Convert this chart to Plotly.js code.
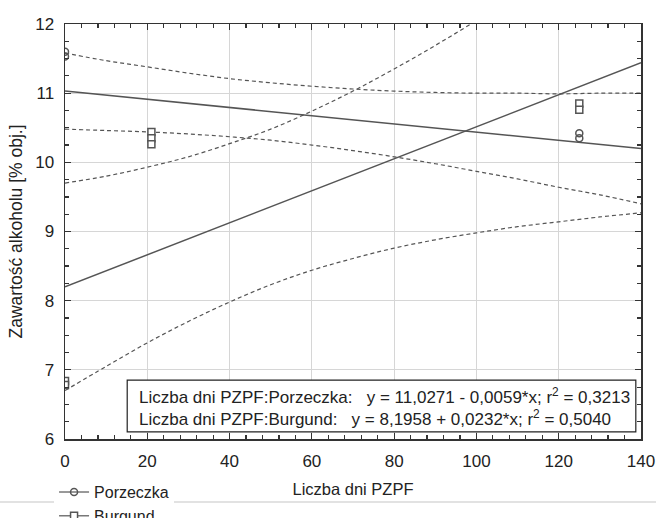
<!DOCTYPE html>
<html>
<head>
<meta charset="utf-8">
<script src="https://cdn.plot.ly/plotly-3.0.1.min.js"></script>
<style>html,body{margin:0;padding:0;background:#fff;}#chart{width:656px;height:518px;}</style>
</head>
<body>
<div id="chart"></div>
<script>
// ---- data ----
const bandX      = [0, 10, 20, 30, 40, 50, 60, 70, 80, 90, 100, 110, 120, 130, 140];
const porzUpper  = [11.58, 11.47, 11.38, 11.29, 11.21, 11.15, 11.10, 11.06, 11.03, 11.01, 11.00, 11.00, 10.99, 11.00, 11.00];
const porzLower  = [10.48, 10.46, 10.44, 10.41, 10.37, 10.32, 10.25, 10.17, 10.08, 9.98, 9.87, 9.76, 9.64, 9.53, 9.40];
const burgUpper  = [9.70, 9.80, 9.93, 10.08, 10.27, 10.48, 10.74, 11.03, 11.35, 11.69, 12.05, 12.43, 12.82, 13.21, 13.62];
const burgLower  = [6.70, 7.05, 7.39, 7.70, 7.98, 8.23, 8.44, 8.61, 8.76, 8.88, 8.98, 9.07, 9.14, 9.21, 9.27];
const lineX      = [0, 140];
const porzLine   = [11.03, 10.20];
const burgLine   = [8.20, 11.44];
const porzX      = [0, 0, 125, 125];
const porzY      = [11.60, 11.53, 10.42, 10.35];
const burgX      = [0, 0, 21, 21, 21, 125, 125];
const burgY      = [6.84, 6.78, 10.44, 10.35, 10.26, 10.85, 10.76];
const seriesNames = ['Porzeczka', 'Burgund'];
const eqLines = [
  'Liczba dni PZPF:Porzeczka:\u00a0\u00a0\u00a0y = 11,0271 - 0,0059*x; r<sup>2</sup> = 0,3213',
  'Liczba dni PZPF:Burgund:\u00a0\u00a0\u00a0y = 8,1958 + 0,0232*x; r<sup>2</sup> = 0,5040'
];
const xTicks = [0, 20, 40, 60, 80, 100, 120, 140];
const yTicks = [6, 7, 8, 9, 10, 11, 12];

// separate points with gaps so the legend shows a line + marker but no connecting lines
function gapped(arr) { const out = []; arr.forEach(v => { out.push(v); out.push(null); }); return out; }

const GREY = '#555';
const FONT = 'Liberation Sans, Arial, sans-serif';
const dashStyle = {color: GREY, width: 1.2, dash: '4px,3px', shape: 'spline', smoothing: 1};

const traces = [
  {x: bandX, y: porzUpper, mode: 'lines', line: dashStyle, showlegend: false, hoverinfo: 'skip'},
  {x: bandX, y: porzLower, mode: 'lines', line: dashStyle, showlegend: false, hoverinfo: 'skip'},
  {x: bandX, y: burgUpper, mode: 'lines', line: dashStyle, showlegend: false, hoverinfo: 'skip'},
  {x: bandX, y: burgLower, mode: 'lines', line: dashStyle, showlegend: false, hoverinfo: 'skip'},
  {x: lineX, y: porzLine, mode: 'lines', line: {color: GREY, width: 1.5}, showlegend: false},
  {x: lineX, y: burgLine, mode: 'lines', line: {color: GREY, width: 1.5}, showlegend: false},
  {x: gapped(porzX), y: gapped(porzY), name: seriesNames[0], mode: 'lines+markers', connectgaps: false,
   line: {color: GREY, width: 1.2},
   marker: {symbol: 'circle-open', size: 7, color: GREY, line: {width: 1.5, color: GREY}}},
  {x: gapped(burgX), y: gapped(burgY), name: seriesNames[1], mode: 'lines+markers', connectgaps: false,
   line: {color: GREY, width: 1.2},
   marker: {symbol: 'square', size: 7, color: '#fff', line: {width: 1.5, color: GREY}}}
];

const axisCommon = {
  showline: true, linecolor: '#333', linewidth: 1.5, mirror: 'ticks',
  ticks: 'inside', ticklen: 6, tickwidth: 1.2, tickcolor: '#333',
  showgrid: true, gridcolor: '#d6d6d6', gridwidth: 1, zeroline: false,
  tickfont: {family: FONT, size: 17, color: '#222'}
};

const layout = {
  width: 656, height: 518,
  margin: {l: 65, r: 15, t: 24, b: 79, autoexpand: false},
  paper_bgcolor: '#fff', plot_bgcolor: '#fff',
  font: {family: FONT, color: '#222'},
  xaxis: Object.assign({}, axisCommon, {
    range: [0, 140], tickvals: xTicks, ticklabelstandoff: 6,
    minor: {dtick: 4, tick0: 0, ticks: 'inside', ticklen: 4, tickcolor: '#333', showgrid: false},
    title: {text: 'Liczba dni PZPF', font: {family: FONT, size: 16.5, color: '#222'}, standoff: 13}
  }),
  yaxis: Object.assign({}, axisCommon, {
    range: [6, 12], tickvals: yTicks, ticklabelstandoff: 6,
    minor: {dtick: 0.25, tick0: 6, ticks: 'inside', ticklen: 4, tickcolor: '#333', showgrid: false},
    title: {text: 'Zawartość alkoholu [% obj.]', font: {family: FONT, size: 17.5, color: '#222'}, standoff: 8}
  }),
  showlegend: true,
  legend: {x: -0.019, xanchor: 'left', y: -0.087, yanchor: 'top', bgcolor: '#fff',
           font: {family: FONT, size: 16, color: '#222'}, tracegroupgap: 0},
  shapes: [
    {type: 'line', xref: 'paper', yref: 'paper', x0: -0.12, x1: 1.03, y0: -0.152, y1: -0.152,
     line: {color: '#d8d8d8', width: 1.5}, layer: 'below'},
    {type: 'rect', xref: 'paper', yref: 'paper', x0: 0.108, x1: 0.991, y0: 0.017, y1: 0.142,
     fillcolor: '#fff', line: {color: '#222', width: 1.2}, layer: 'above'}
  ],
  annotations: [
    {xref: 'paper', yref: 'paper', x: 0.125, y: 0.104, xanchor: 'left', yanchor: 'middle',
     text: eqLines[0], showarrow: false, font: {family: FONT, size: 17, color: '#222'}},
    {xref: 'paper', yref: 'paper', x: 0.125, y: 0.051, xanchor: 'left', yanchor: 'middle',
     text: eqLines[1], showarrow: false, font: {family: FONT, size: 17, color: '#222'}}
  ]
};

Plotly.newPlot('chart', traces, layout, {displayModeBar: false, staticPlot: true});
</script>
</body>
</html>
